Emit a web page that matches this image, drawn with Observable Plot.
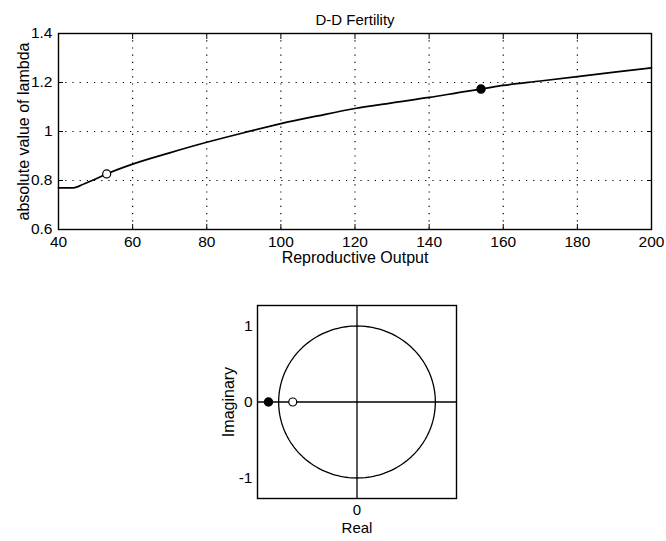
<!DOCTYPE html>
<html><head><meta charset="utf-8">
<script src="https://cdn.jsdelivr.net/npm/d3@7"></script>
<script src="https://cdn.jsdelivr.net/npm/@observablehq/plot@0.6"></script>
<style>
body{margin:0;background:#fff;}
#wrap{position:relative;width:666px;height:541px;background:#fff;}
#wrap svg{position:absolute;left:0;}
</style></head><body><div id="wrap"></div>
<script>
// Top panel data: |lambda| vs reproductive output
const outputX   = [40, 44, 47, 50, 53, 60, 70, 80, 90, 100, 110, 120, 130, 140, 150, 154, 160, 170, 180, 190, 200];
const lambdaAbs = [0.77, 0.77, 0.787, 0.806, 0.827, 0.867, 0.913, 0.956, 0.995, 1.032, 1.064, 1.094, 1.117, 1.139, 1.164, 1.173, 1.188, 1.206, 1.224, 1.242, 1.26];
const openMarkX = [53],  openMarkY = [0.827];
const fillMarkX = [154], fillMarkY = [1.173];
const xTicks = [40, 60, 80, 100, 120, 140, 160, 180, 200];
const yTicks = [0.6, 0.8, 1, 1.2, 1.4];

// Bottom panel data: eigenvalues in the complex plane
const eigOpenRe = [-0.82], eigOpenIm = [0];
const eigFillRe = [-1.13], eigFillIm = [0];
const reTicks = [0];
const imTicks = [-1, 0, 1];
const unitCircleAngles = d3.range(0, 361, 2);

const font = "Liberation Sans, Arial, Helvetica, sans-serif";
const curve = outputX.map((x, i) => ({x, y: lambdaAbs[i]}));
const openPt = openMarkX.map((x, i) => ({x, y: openMarkY[i]}));
const fillPt = fillMarkX.map((x, i) => ({x, y: fillMarkY[i]}));
const fmt = d => String(d);

const topChart = Plot.plot({
  width: 666, height: 275,
  marginLeft: 58, marginRight: 15, marginTop: 33, marginBottom: 46,
  style: {fontFamily: font, fontSize: "15px", color: "#000", background: "#fff", overflow: "visible"},
  x: {domain: [40, 200]},
  y: {domain: [0.6, 1.4]},
  marks: [
    Plot.gridX(xTicks.slice(1, -1), {stroke: "#000", strokeOpacity: 1, strokeWidth: 1.2, strokeDasharray: "1.2,6"}),
    Plot.gridY(yTicks.slice(1, -1), {stroke: "#000", strokeOpacity: 1, strokeWidth: 1.2, strokeDasharray: "1.2,6"}),
    Plot.axisX(xTicks, {anchor: "bottom", tickSize: -5, tickFormat: () => "", label: null}),
    Plot.axisX(xTicks, {anchor: "top", tickSize: -5, tickFormat: () => "", label: null}),
    Plot.axisY(yTicks, {anchor: "left", tickSize: -5, tickFormat: () => "", label: null}),
    Plot.axisY(yTicks, {anchor: "right", tickSize: -5, tickFormat: () => "", label: null}),
    Plot.axisX(xTicks, {anchor: "bottom", tickSize: 0, tickPadding: 6, tickFormat: fmt, label: null, fontSize: 15.5}),
    Plot.axisY(yTicks, {anchor: "left", tickSize: 0, tickPadding: 6, tickFormat: fmt, label: null, fontSize: 15.5}),
    Plot.frame({stroke: "#000", strokeWidth: 1.4}),
    Plot.line(curve, {x: "x", y: "y", stroke: "#000", strokeWidth: 1.7, curve: "monotone-x"}),
    Plot.dot(openPt, {x: "x", y: "y", r: 4, stroke: "#000", fill: "#fff", strokeWidth: 1.2}),
    Plot.dot(fillPt, {x: "x", y: "y", r: 4, stroke: "#000", fill: "#000"}),
    Plot.text(["D-D Fertility"], {frameAnchor: "top", dy: -19, fontSize: 15}),
    Plot.text(["Reproductive Output"], {frameAnchor: "bottom", dy: 33, fontSize: 16}),
    Plot.text(["absolute value of lambda"], {frameAnchor: "left", textAnchor: "middle", dx: -35, rotate: -90, fontSize: 16})
  ]
});

const circle = unitCircleAngles.map(a => ({re: Math.cos(a * Math.PI / 180), im: Math.sin(a * Math.PI / 180)}));
const openEig = eigOpenRe.map((re, i) => ({re, im: eigOpenIm[i]}));
const fillEig = eigFillRe.map((re, i) => ({re, im: eigFillIm[i]}));

const bottomChart = Plot.plot({
  width: 666, height: 266,
  marginLeft: 257, marginRight: 210, marginTop: 30, marginBottom: 43,
  style: {fontFamily: font, fontSize: "15px", color: "#000", background: "transparent", overflow: "visible"},
  x: {domain: [-1.27, 1.27]},
  y: {domain: [-1.27, 1.27]},
  marks: [
    Plot.ruleX([0], {stroke: "#000", strokeWidth: 1.3}),
    Plot.ruleY([0], {stroke: "#000", strokeWidth: 1.3}),
    Plot.line(circle, {x: "re", y: "im", stroke: "#000", strokeWidth: 1.3}),
    Plot.axisX(reTicks, {anchor: "bottom", tickSize: 0, tickPadding: 6, tickFormat: fmt, label: null, fontSize: 15}),
    Plot.axisY(imTicks, {anchor: "left", tickSize: 0, tickPadding: 5, tickFormat: fmt, label: null, fontSize: 15.5}),
    Plot.frame({stroke: "#000", strokeWidth: 1.4}),
    Plot.dot(fillEig, {x: "re", y: "im", r: 4, fill: "#000", stroke: "#000"}),
    Plot.dot(openEig, {x: "re", y: "im", r: 4, fill: "#fff", stroke: "#000", strokeWidth: 1.2}),
    Plot.text(["Real"], {frameAnchor: "bottom", dy: 34, fontSize: 15}),
    Plot.text(["Imaginary"], {frameAnchor: "left", textAnchor: "middle", dx: -29, rotate: -90, fontSize: 16})
  ]
});

const wrap = document.getElementById("wrap");
topChart.style.top = "0px";
bottomChart.style.top = "275px";
wrap.appendChild(topChart);
wrap.appendChild(bottomChart);
</script>
</body></html>
